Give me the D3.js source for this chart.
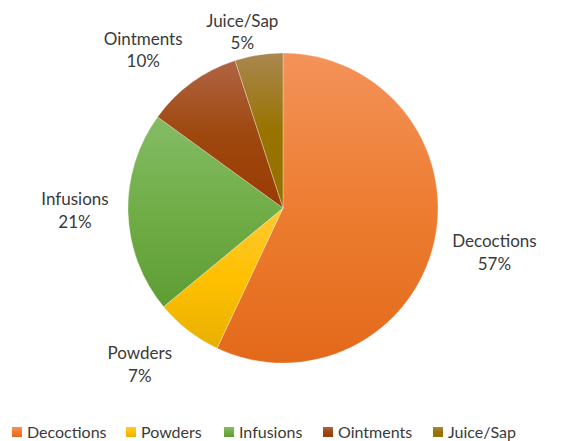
<!DOCTYPE html>
<html>
<head>
<meta charset="utf-8">
<script src="https://cdn.jsdelivr.net/npm/d3@7"></script>
<style>
  html, body { margin: 0; padding: 0; background: #fff; }
  svg { display: block; font-family: Lato, "Open Sans", sans-serif; }
</style>
</head>
<body>
<svg id="chart" width="568" height="441"></svg>
<script>
// Preparation methods and their share of use (%)
const categories = ["Decoctions", "Powders", "Infusions", "Ointments", "Juice/Sap"];
const shares = [57, 7, 21, 10, 5];

// Office-style accent fills: light top, base middle, darker bottom
const baseColors = ["#ED7D31", "#FFC000", "#70AD47", "#9E480E", "#997300"];
const topColors = ["#F4925A", "#FFC935", "#84BC66", "#B06443", "#A98750"];
const bottomColors = ["#E3691A", "#E8B000", "#5E9C34", "#9A3B04", "#967000"];

const W = 568, H = 441;
const cx = 283, cy = 208, radius = 155;

const svg = d3.select("#chart");
const defs = svg.append("defs");

const data = categories.map((c, i) => ({ name: c, value: shares[i], i }));

const pie = d3.pie().sort(null).value(d => d.value);
const arcs = pie(data);
const arc = d3.arc().innerRadius(0).outerRadius(radius);

arcs.forEach((a, i) => {
  const g = defs.append("linearGradient")
    .attr("id", "grad" + i)
    .attr("x1", 0).attr("y1", 0).attr("x2", 0).attr("y2", 1);
  g.append("stop").attr("offset", "0%").attr("stop-color", topColors[i]);
  g.append("stop").attr("offset", "50%").attr("stop-color", baseColors[i]);
  g.append("stop").attr("offset", "100%").attr("stop-color", bottomColors[i]);
});

const pieG = svg.append("g").attr("transform", `translate(${cx},${cy})`);

pieG.selectAll("path.slice")
  .data(arcs)
  .join("path")
  .attr("class", "slice")
  .attr("d", arc)
  .attr("fill", (d, i) => `url(#grad${i})`)
  .attr("stroke", "#ffffff")
  .attr("stroke-opacity", 0.5)
  .attr("stroke-width", 0.6);

// Data labels: placed outside the pie along each slice's mid-angle
const labelRadius = { "Decoctions": 216, "Powders": 212, "Infusions": 208, "Ointments": 211, "Juice/Sap": 181 };
const labelAngleShift = { "Decoctions": -0.8, "Powders": 4.7, "Infusions": 1.2, "Ointments": -5.5, "Juice/Sap": -4 };

const labelG = svg.append("g").attr("transform", `translate(${cx},${cy})`);
arcs.forEach(a => {
  const name = a.data.name;
  const mid = (a.startAngle + a.endAngle) / 2 + labelAngleShift[name] * Math.PI / 180;
  const r = labelRadius[name];
  const x = Math.sin(mid) * r;
  const y = -Math.cos(mid) * r;
  const t = labelG.append("text")
    .attr("x", x).attr("y", y)
    .attr("text-anchor", "middle")
    .attr("font-size", 17)
    .attr("fill", "#3a3a3a");
  t.append("tspan").attr("x", x).attr("dy", "-0.3em").text(name);
  t.append("tspan").attr("x", x).attr("dy", "1.32em").text(a.data.value + "%");
});

// Legend along the bottom
const legendX = [12, 126, 224, 323, 433];
const legend = svg.append("g");
categories.forEach((c, i) => {
  const g = legend.append("g").attr("transform", `translate(${legendX[i]},427)`);
  g.append("rect")
    .attr("width", 10).attr("height", 10)
    .attr("fill", `url(#grad${i})`);
  g.append("text")
    .attr("x", 15).attr("y", 10.8)
    .attr("font-size", 16)
    .attr("fill", "#3a3a3a")
    .text(c);
});
</script>
</body>
</html>
